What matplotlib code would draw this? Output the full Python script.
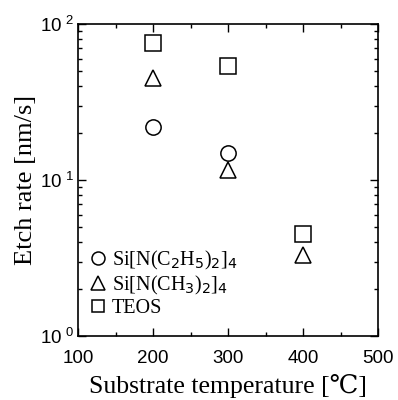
import matplotlib.pyplot as plt
from matplotlib.ticker import FixedLocator, FixedFormatter, LogLocator, MultipleLocator, NullFormatter

plt.rcParams['font.family'] = ['Liberation Sans', 'DejaVu Sans']

temp_c2h5 = [200, 300]
rate_c2h5 = [22, 14.8]
temp_ch3 = [200, 300, 400]
rate_ch3 = [45, 11.6, 3.3]
temp_teos = [200, 300, 400]
rate_teos = [76, 54, 4.5]

labels = [r"Si[N(C$_2$H$_5$)$_2$]$_4$", r"Si[N(CH$_3$)$_2$]$_4$", "TEOS"]

serif = ['Liberation Serif', 'DejaVu Serif']

fig = plt.figure(figsize=(3.98, 4.0), dpi=100)
ax = fig.add_axes([0.196, 0.16, 0.754, 0.78])

mk = dict(linestyle='none', markerfacecolor='white', markeredgecolor='black', markeredgewidth=1.1)
ax.plot(temp_c2h5, rate_c2h5, marker='o', markersize=11, label=labels[0], **mk)
ax.plot(temp_ch3, rate_ch3, marker='^', markersize=12, label=labels[1], **mk)
ax.plot(temp_teos, rate_teos, marker='s', markersize=11, label=labels[2], **mk)

ax.set_yscale('log')
ax.set_xlim(100, 500)
ax.set_ylim(1, 100)

ax.xaxis.set_major_locator(MultipleLocator(100))
ax.xaxis.set_minor_locator(MultipleLocator(50))
ax.yaxis.set_major_locator(FixedLocator([1, 10, 100]))
ax.yaxis.set_major_formatter(FixedFormatter([r"$\mathregular{10^{\ 0}}$", r"$\mathregular{10^{\ 1}}$", r"$\mathregular{10^{\ 2}}$"]))
ax.yaxis.set_minor_locator(LogLocator(base=10, subs=range(2, 10)))
ax.yaxis.set_minor_formatter(NullFormatter())

ax.tick_params(which='both', direction='in', top=True, right=True, width=1, labelsize=13.5)
ax.tick_params(which='major', length=6)
ax.tick_params(which='minor', length=3)
ax.tick_params(axis='x', pad=10)
ax.tick_params(axis='y', pad=3)
for s in ax.spines.values():
    s.set_linewidth(1.2)

ax.set_xlabel("Substrate temperature [℃]", family=serif, fontsize=18.5, labelpad=5)
ax.set_ylabel("Etch rate [nm/s]", family=serif, fontsize=19, labelpad=2)

leg = ax.legend(loc='lower left', bbox_to_anchor=(-0.035, 0.0), frameon=False,
                prop={'family': serif, 'size': 14.5}, handletextpad=0.1,
                labelspacing=0.1, markerscale=0.85, handlelength=1.2)

fig.savefig("out.png", dpi=100)
